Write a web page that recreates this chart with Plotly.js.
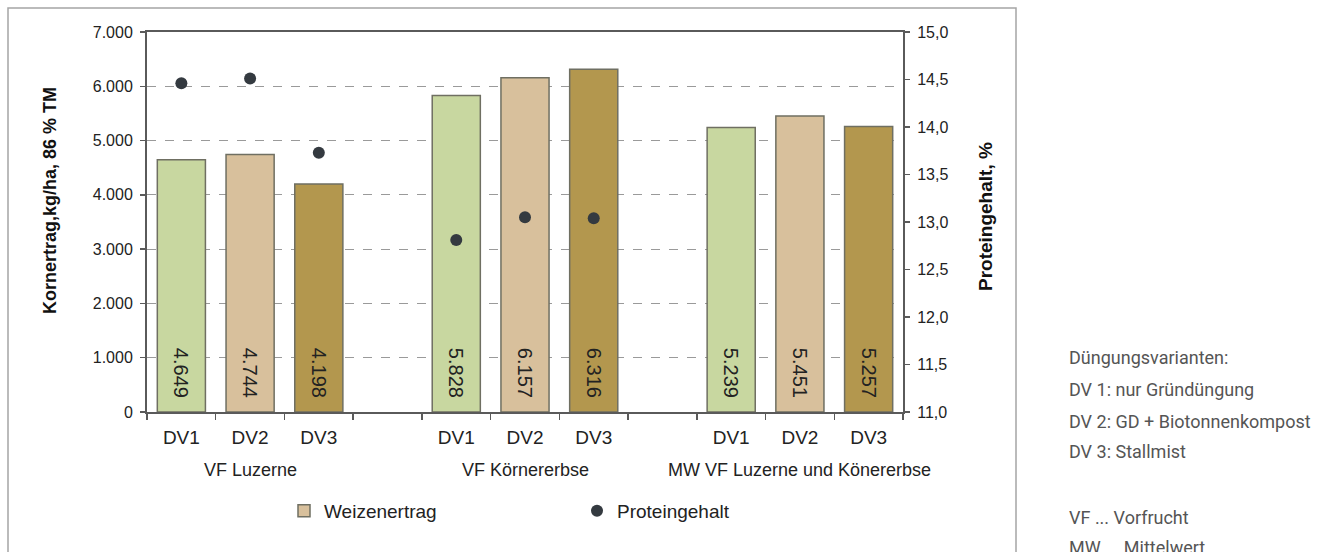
<!DOCTYPE html>
<html>
<head>
<meta charset="utf-8">
<script src="https://cdn.plot.ly/plotly-3.0.1.min.js"></script>
<style>
  html, body { margin: 0; padding: 0; background: #fff; }
  #chart { width: 1322px; height: 552px; }
</style>
</head>
<body>
<div id="chart"></div>
<script>
// ---- data ----
const groups = ['VF Luzerne', 'VF Körnererbse', 'MW VF Luzerne und Könererbse'];
const variants = ['DV1', 'DV2', 'DV3'];
const yieldLuzerne = [4649, 4744, 4198];
const yieldKoernererbse = [5828, 6157, 6316];
const yieldMittelwert = [5239, 5451, 5257];
const proteinLuzerne = [14.46, 14.51, 13.73];
const proteinKoernererbse = [12.81, 13.05, 13.04];
const proteinMittelwert = [null, null, null];
const variantColors = ['#c8d7a0', '#d8c09c', '#b3974e'];
const notes = ['Düngungsvarianten:', 'DV 1: nur Gründüngung', 'DV 2: GD + Biotonnenkompost', 'DV 3: Stallmist', '', 'VF ... Vorfrucht', 'MW ... Mittelwert'];

const yields = [yieldLuzerne, yieldKoernererbse, yieldMittelwert];
const proteins = [proteinLuzerne, proteinKoernererbse, proteinMittelwert];

// build category axis: 3 groups with an empty slot between them
const cats = [], barX = [], barY = [], barC = [], ptX = [], ptY = [], groupCenters = [];
groups.forEach((g, gi) => {
  if (gi > 0) cats.push(' '.repeat(gi));
  variants.forEach((v, vi) => {
    const c = v + '\u200b'.repeat(gi);
    cats.push(c);
    barX.push(c); barY.push(yields[gi][vi]); barC.push(variantColors[vi]);
    if (proteins[gi][vi] !== null) { ptX.push(c); ptY.push(proteins[gi][vi]); }
    if (vi === 1) groupCenters.push(c);
  });
});

// plot area geometry (px)
const W = 1322, H = 552, L = 147, R = 903, T = 32, B = 412;
const px = x => (x - L) / (R - L);
const py = y => (B - y) / (B - T);

const FONT = 'Liberation Sans, Arial, sans-serif';
const axisCol = '#5a5a5a';

const traces = [
  {
    type: 'bar', x: barX, y: barY, showlegend: false,
    marker: { color: barC, line: { color: '#6f6f62', width: 1.5 } },
    texttemplate: '%{y:,d}\u00a0\u00a0', textposition: 'inside', insidetextanchor: 'start',
    textangle: 90, constraintext: 'none',
    insidetextfont: { family: FONT, size: 20, color: '#222' },
    hoverinfo: 'skip'
  },
  {
    type: 'bar', x: [null], y: [null], name: 'Weizenertrag', legend: 'legend',
    marker: { color: variantColors[1], line: { color: '#6f6f62', width: 1.5 } }
  },
  {
    type: 'scatter', mode: 'markers', x: ptX, y: ptY, yaxis: 'y2',
    name: 'Proteingehalt', legend: 'legend2',
    marker: { color: '#343a40', size: 12 }
  }
];

const ann = [];
groups.forEach((g, gi) => ann.push({
  xref: 'x', yref: 'paper', x: groupCenters[gi], y: py(470),
  xanchor: 'center', yanchor: 'middle',
  text: g, showarrow: false, font: { family: FONT, size: 18, color: '#222' }
}));
ann.push({
  xref: 'paper', yref: 'paper', x: px(50), y: py(201), textangle: -90,
  xanchor: 'center', yanchor: 'middle',
  text: '<b>Kornertrag,kg/ha, 86 % TM</b>', showarrow: false,
  font: { family: FONT, size: 18, color: '#111' }
});
ann.push({
  xref: 'paper', yref: 'paper', x: px(986), y: py(217), textangle: -90,
  xanchor: 'center', yanchor: 'middle',
  text: '<b>Proteingehalt, %</b>', showarrow: false,
  font: { family: FONT, size: 19, color: '#111' }
});
const noteY = [357, 389, 421, 452, 484, 517, 547];
notes.forEach((n, i) => {
  if (!n) return;
  ann.push({
    xref: 'paper', yref: 'paper', x: px(1067), y: py(noteY[i]),
    xanchor: 'left', yanchor: 'middle', text: n, showarrow: false,
    font: { family: 'Roboto, Noto Sans, sans-serif', size: 18, color: '#555' }
  });
});

const layout = {
  width: W, height: H,
  margin: { l: L, r: W - R, t: T, b: H - B, pad: 0 },
  paper_bgcolor: '#fff', plot_bgcolor: '#fff',
  separators: ',.',
  barmode: 'overlay', bargap: 0.3,
  font: { family: FONT, color: '#222' },
  xaxis: {
    type: 'category', categoryorder: 'array', categoryarray: cats,
    range: [-0.5, cats.length - 0.5], fixedrange: true,
    tickson: 'boundaries', ticks: 'outside', ticklen: 6, tickwidth: 1.5, tickcolor: axisCol,
    showline: true, linecolor: axisCol, linewidth: 2, mirror: true,
    showgrid: false, tickfont: { family: FONT, size: 19, color: '#222' },
    ticklabelstandoff: 7
  },
  yaxis: {
    range: [0, 7000], dtick: 1000, tickformat: ',d',
    ticks: 'outside', ticklen: 5, tickwidth: 1.5, tickcolor: axisCol,
    showline: true, linecolor: axisCol, linewidth: 2,
    showgrid: true, gridcolor: '#9a9a9a', griddash: 'dash', gridwidth: 1,
    zeroline: false, tickfont: { family: FONT, size: 16, color: '#222' },
    ticklabelstandoff: 4
  },
  yaxis2: {
    overlaying: 'y', side: 'right', range: [11, 15], dtick: 0.5, tickformat: '.1f',
    ticks: 'outside', ticklen: 5, tickwidth: 1.5, tickcolor: axisCol,
    showline: true, linecolor: axisCol, linewidth: 2,
    showgrid: false, zeroline: false,
    tickfont: { family: FONT, size: 16, color: '#222' },
    ticklabelstandoff: 4
  },
  legend: {
    x: px(284), y: py(511), xanchor: 'left', yanchor: 'middle',
    orientation: 'h', bgcolor: 'rgba(0,0,0,0)',
    font: { family: FONT, size: 19, color: '#222' }
  },
  legend2: {
    x: px(577), y: py(511), xanchor: 'left', yanchor: 'middle',
    orientation: 'h', bgcolor: 'rgba(0,0,0,0)',
    font: { family: FONT, size: 19, color: '#222' }
  },
  shapes: [{
    type: 'rect', xref: 'paper', yref: 'paper',
    x0: px(8), x1: px(1016), y0: py(570), y1: py(8),
    line: { color: '#a5a5a5', width: 1.5 }, fillcolor: 'rgba(0,0,0,0)', layer: 'below'
  }],
  annotations: ann
};

Plotly.newPlot('chart', traces, layout, { staticPlot: true, displayModeBar: false });
</script>
</body>
</html>
